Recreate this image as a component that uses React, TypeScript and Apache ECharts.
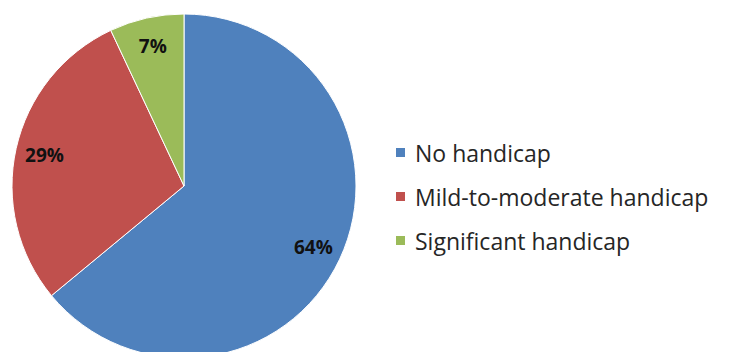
import React, { useEffect, useRef } from "react";
import * as echarts from "echarts";

const categories = ["No handicap", "Mild-to-moderate handicap", "Significant handicap"];
const values = [64, 29, 7];
const colors = ["#4F81BD", "#C0504D", "#9BBB59"];

export default function App() {
  const ref = useRef<HTMLDivElement>(null);
  useEffect(() => {
    if (!ref.current) return;
    const chart = echarts.init(ref.current, undefined, { renderer: "svg" });
    const data = categories.map((name, i) => ({
      name,
      value: values[i],
      itemStyle: { color: colors[i] },
    }));
    chart.setOption({
      animation: false,
      backgroundColor: "#ffffff",
      legend: {
        orient: "vertical",
        left: 389,
        top: 136,
        icon: "rect",
        itemWidth: 11,
        itemHeight: 11,
        itemGap: 21,
        data: categories,
        textStyle: {
          fontFamily: "Open Sans",
          fontSize: 23,
          lineHeight: 23,
          color: "#262626",
          padding: [0, 0, 0, 4],
        },
      },
      series: [
        {
          type: "pie",
          center: [184, 186],
          radius: [0, 172],
          startAngle: 90,
          clockwise: true,
          silent: true,
          label: { show: false },
          labelLine: { show: false },
          itemStyle: { borderColor: "#ffffff", borderWidth: 1 },
          data,
        },
        {
          type: "pie",
          center: [184, 186],
          radius: [108, 172],
          startAngle: 90,
          clockwise: true,
          silent: true,
          itemStyle: { color: "rgba(0,0,0,0)" },
          label: {
            show: true,
            position: "inside",
            formatter: "{d}%",
            fontFamily: "Open Sans",
            fontWeight: "bold",
            fontSize: 19,
            color: "#111111",
          },
          labelLine: { show: false },
          data: values.map((v, i) => ({ name: "_" + i, value: v })),
        },
      ],
    });
    return () => chart.dispose();
  }, []);
  return (
    <div
      ref={ref}
      style={{ position: "fixed", left: 0, top: 0, width: 732, height: 352 }}
    />
  );
}
